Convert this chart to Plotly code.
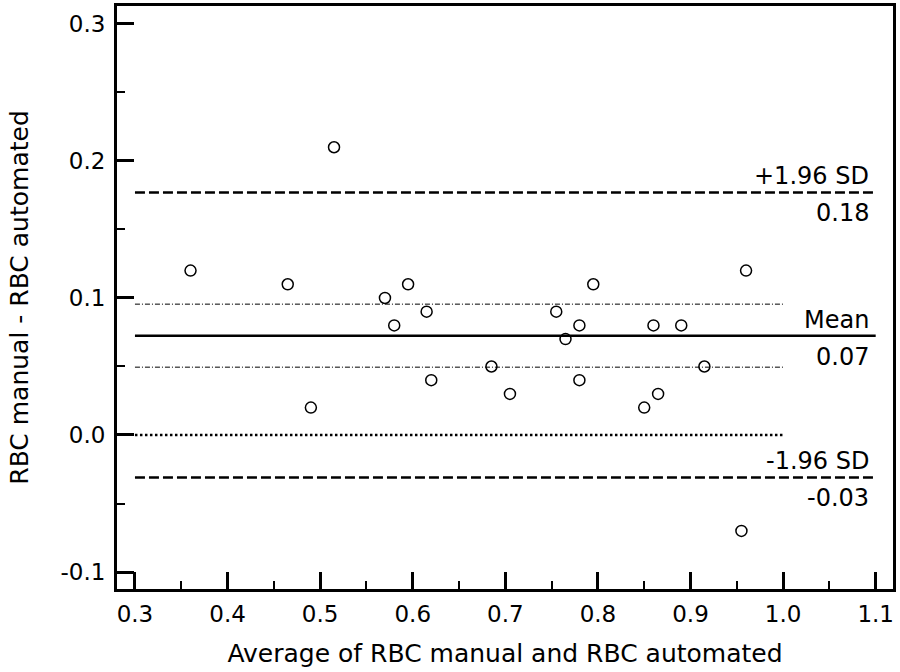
import plotly.graph_objects as go

# Bland-Altman data: average of the two methods vs their difference
avg_values = [0.36, 0.465, 0.49, 0.515, 0.57, 0.58, 0.595, 0.615, 0.62, 0.685,
              0.705, 0.755, 0.765, 0.78, 0.78, 0.795, 0.85, 0.86, 0.865, 0.89,
              0.915, 0.955, 0.96]
diff_values = [0.12, 0.11, 0.02, 0.21, 0.10, 0.08, 0.11, 0.09, 0.04, 0.05,
               0.03, 0.09, 0.07, 0.08, 0.04, 0.11, 0.02, 0.08, 0.03, 0.08,
               0.05, -0.07, 0.12]

# Reference lines
mean_diff = 0.0725
upper_loa = 0.177
lower_loa = -0.031
mean_ci = [0.0955, 0.0495]
line_start = 0.3
line_end = 1.1
short_end = 1.0

x_ticks = [0.3, 0.4, 0.5, 0.6, 0.7, 0.8, 0.9, 1.0, 1.1]
x_ticktext = ["0.3", "0.4", "0.5", "0.6", "0.7", "0.8", "0.9", "1.0", "1.1"]
y_ticks = [-0.1, 0.0, 0.1, 0.2, 0.3]
y_ticktext = ["-0.1", "0.0", "0.1", "0.2", "0.3"]
x_minor = [0.35, 0.45, 0.55, 0.65, 0.75, 0.85, 0.95, 1.05]
y_minor = [-0.05, 0.05, 0.15, 0.25]

FONT = "DejaVu Sans"

fig = go.Figure()

# Confidence interval of the mean (thin dash-dot)
for v in mean_ci:
    fig.add_trace(go.Scatter(x=[line_start, short_end], y=[v, v], mode="lines",
                             line=dict(color="black", width=1, dash="5px,2px,1px,2px"),
                             hoverinfo="skip"))

# Zero line (dotted)
fig.add_trace(go.Scatter(x=[line_start, short_end], y=[0, 0], mode="lines",
                         line=dict(color="black", width=2.5, dash="2.5px,2.5px"),
                         hoverinfo="skip"))

# Limits of agreement (dashed) and mean (solid)
for v in [upper_loa, lower_loa]:
    fig.add_trace(go.Scatter(x=[line_start, line_end], y=[v, v], mode="lines",
                             line=dict(color="black", width=2.5, dash="10px,4px"),
                             hoverinfo="skip"))
fig.add_trace(go.Scatter(x=[line_start, line_end], y=[mean_diff, mean_diff], mode="lines",
                         line=dict(color="black", width=2.5), hoverinfo="skip"))

# Data points
fig.add_trace(go.Scatter(x=avg_values, y=diff_values, mode="markers",
                         marker=dict(symbol="circle-open", size=11,
                                     line=dict(color="black", width=1.5), color="black")))

labels = [("+1.96 SD", upper_loa, "bottom"), ("0.18", upper_loa, "top"),
          ("Mean", mean_diff, "bottom"), ("0.07", mean_diff, "top"),
          ("-1.96 SD", lower_loa, "bottom"), ("-0.03", lower_loa, "top")]
for text, yv, anchor in labels:
    fig.add_annotation(x=line_end, y=yv, text=text, showarrow=False,
                       xanchor="right", yanchor=anchor, xshift=-5,
                       yshift=0 if anchor == "bottom" else -5,
                       font=dict(family=FONT, size=24, color="black"))

axis_common = dict(showline=True, linecolor="black", linewidth=3, mirror=True,
                   ticks="inside", ticklen=17, tickwidth=2.5, tickcolor="black",
                   showgrid=False, zeroline=False, automargin=False,
                   tickfont=dict(family=FONT, size=23, color="black"))

fig.update_xaxes(range=[0.2806, 1.1187], tickmode="array", tickvals=x_ticks,
                 ticktext=x_ticktext, ticklabelstandoff=2,
                 minor=dict(tickmode="array", tickvals=x_minor, ticks="inside",
                            ticklen=8, tickwidth=2, tickcolor="black"),
                 title=dict(text="Average of RBC manual and RBC automated",
                            font=dict(family=FONT, size=25, color="black"), standoff=19),
                 **axis_common)
fig.update_yaxes(range=[-0.1124, 0.3131], tickmode="array", tickvals=y_ticks,
                 ticktext=y_ticktext, ticklabelstandoff=4,
                 minor=dict(tickmode="array", tickvals=y_minor, ticks="inside",
                            ticklen=8, tickwidth=2, tickcolor="black"),
                 title=dict(text="RBC manual - RBC automated",
                            font=dict(family=FONT, size=25, color="black"), standoff=25),
                 **axis_common)

fig.update_layout(width=900, height=672, showlegend=False,
                  plot_bgcolor="white", paper_bgcolor="white",
                  margin=dict(l=117, r=7, t=6, b=83),
                  font=dict(family=FONT, color="black"))

# page body has a default 8px margin; drop it so the figure sits at the window corner
fig.write_html("out.html", config={"displayModeBar": False},
               post_script="document.body.style.margin='0';")
